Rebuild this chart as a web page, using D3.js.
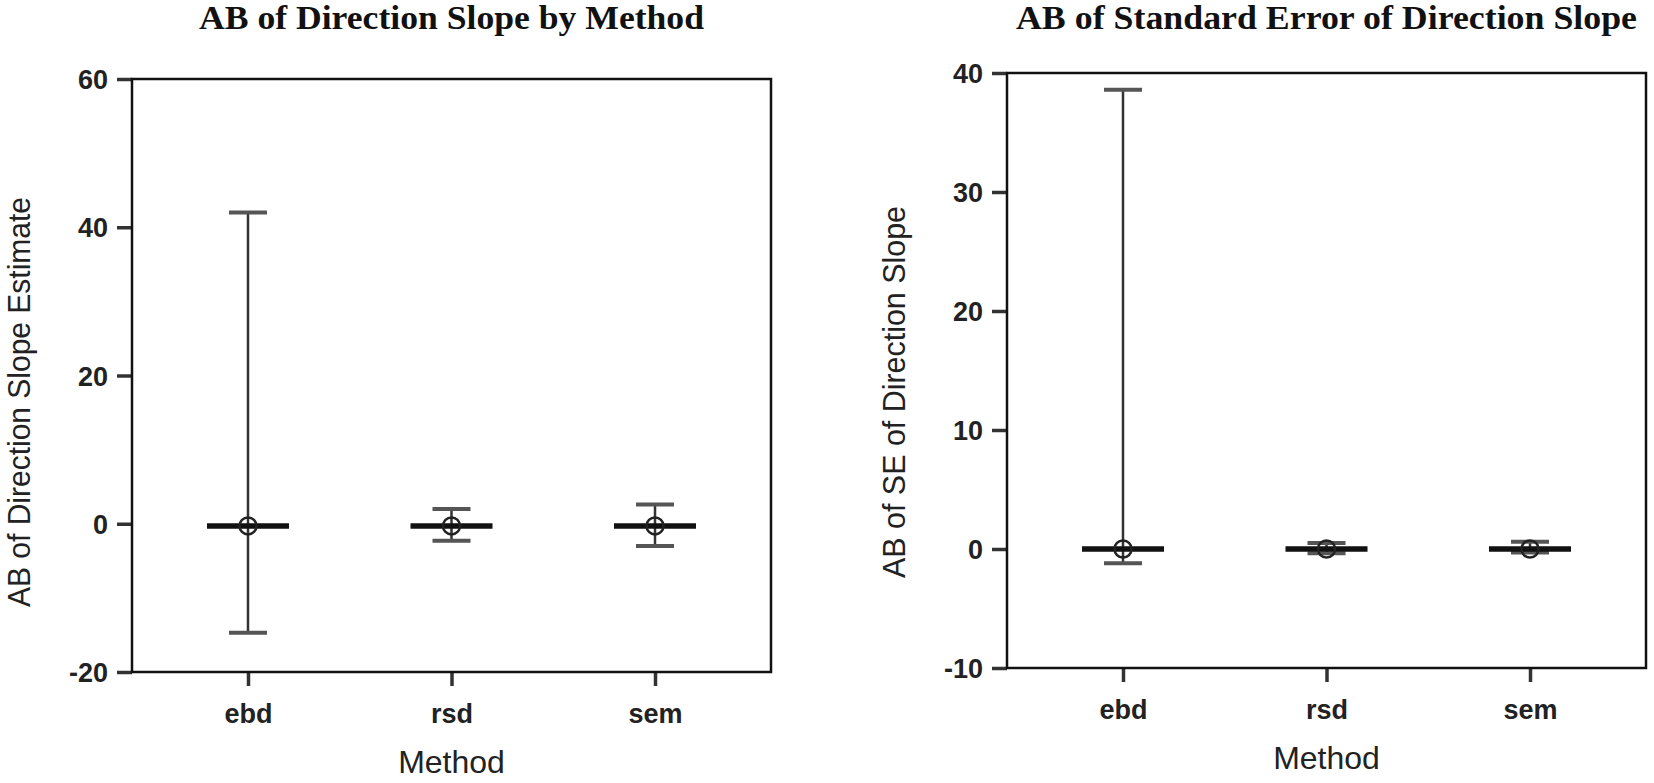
<!DOCTYPE html>
<html>
<head>
<meta charset="utf-8">
<script src="https://cdn.jsdelivr.net/npm/d3@7"></script>
<style>
  html, body { margin: 0; padding: 0; background: #fff; }
  svg { display: block; }
</style>
</head>
<body>
<div id="chart"></div>
<script>
// categories
const methods = ["ebd", "rsd", "sem"];

// left panel: AB of direction slope estimate
const slopeMid = [-0.3, -0.3, -0.3];
const slopeLow = [-14.7, -2.3, -3.0];
const slopeHigh = [42, 2.0, 2.6];
const slopeTicks = [-20, 0, 20, 40, 60];

// right panel: AB of SE of direction slope
const seMid = [0, 0, 0];
const seLow = [-1.2, -0.35, -0.3];
const seHigh = [38.6, 0.5, 0.6];
const seTicks = [-10, 0, 10, 20, 30, 40];

const W = 1654, H = 783;

const svg = d3.select("#chart").append("svg")
  .attr("width", W)
  .attr("height", H);

function drawPanel(cfg) {
  const { left, right, top, bottom, domain, ticks, mid, low, high,
          title, titleLen, ylabel, ylabelLen, ylabelY } = cfg;

  const x = d3.scalePoint()
    .domain(methods)
    .range([left, right])
    .padding(0.57);

  const y = d3.scaleLinear()
    .domain(domain)
    .range([bottom, top]);

  const g = svg.append("g");

  // title
  g.append("text")
    .attr("x", (left + right) / 2)
    .attr("y", 29)
    .attr("text-anchor", "middle")
    .attr("font-family", "'Liberation Serif', 'Times New Roman', serif")
    .attr("font-weight", "bold")
    .attr("font-size", 34)
    .attr("textLength", titleLen)
    .attr("lengthAdjust", "spacingAndGlyphs")
    .attr("fill", "#111")
    .text(title);

  // y axis
  const yAxis = g.append("g")
    .attr("transform", `translate(${left},0)`)
    .call(d3.axisLeft(y).tickValues(ticks).tickSize(15).tickPadding(9).tickFormat(d => String(d)));
  yAxis.select(".domain").remove();
  yAxis.selectAll("line").attr("stroke", "#333").attr("stroke-width", 3.5);
  yAxis.selectAll("text")
    .attr("font-family", "'Liberation Sans', Arial, sans-serif")
    .attr("font-weight", "bold")
    .attr("font-size", 27)
    .attr("fill", "#222")
    .attr("dy", "0.36em");

  // x axis
  const xAxis = g.append("g")
    .attr("transform", `translate(0,${bottom})`)
    .call(d3.axisBottom(x).tickSize(14).tickPadding(18));
  xAxis.select(".domain").remove();
  xAxis.selectAll("line").attr("stroke", "#333").attr("stroke-width", 3.5);
  xAxis.selectAll("text")
    .attr("font-family", "'Liberation Sans', Arial, sans-serif")
    .attr("font-weight", "bold")
    .attr("font-size", 27)
    .attr("fill", "#222");

  // frame
  g.append("rect")
    .attr("x", left)
    .attr("y", top)
    .attr("width", right - left)
    .attr("height", bottom - top)
    .attr("fill", "none")
    .attr("stroke", "#111")
    .attr("stroke-width", 2.5);

  // axis titles
  g.append("text")
    .attr("x", (left + right) / 2)
    .attr("y", bottom + 101)
    .attr("text-anchor", "middle")
    .attr("font-family", "'Liberation Sans', Arial, sans-serif")
    .attr("font-size", 32)
    .attr("fill", "#222")
    .text("Method");

  g.append("text")
    .attr("transform", `translate(${left - 102},${ylabelY}) rotate(-90)`)
    .attr("text-anchor", "middle")
    .attr("font-family", "'Liberation Sans', Arial, sans-serif")
    .attr("font-size", 32)
    .attr("textLength", ylabelLen)
    .attr("lengthAdjust", "spacingAndGlyphs")
    .attr("fill", "#222")
    .text(ylabel);

  const rows = methods.map((m, i) => ({ m, mid: mid[i], low: low[i], high: high[i] }));

  const mark = g.selectAll(".mark")
    .data(rows)
    .enter()
    .append("g")
    .attr("class", "mark");

  // whisker
  mark.append("line")
    .attr("x1", d => x(d.m)).attr("x2", d => x(d.m))
    .attr("y1", d => y(d.low)).attr("y2", d => y(d.high))
    .attr("stroke", "#333")
    .attr("stroke-width", 2.5);

  // caps
  mark.selectAll(".cap")
    .data(d => [d.low, d.high].map(v => ({ m: d.m, v })))
    .enter()
    .append("line")
    .attr("class", "cap")
    .attr("x1", d => x(d.m) - 19).attr("x2", d => x(d.m) + 19)
    .attr("y1", d => y(d.v)).attr("y2", d => y(d.v))
    .attr("stroke", "#555")
    .attr("stroke-width", 4);

  // center bar
  mark.append("line")
    .attr("x1", d => x(d.m) - 41).attr("x2", d => x(d.m) + 41)
    .attr("y1", d => y(d.mid)).attr("y2", d => y(d.mid))
    .attr("stroke", "#111")
    .attr("stroke-width", 5.5);

  // circle marker
  mark.append("circle")
    .attr("cx", d => x(d.m))
    .attr("cy", d => y(d.mid))
    .attr("r", 8.5)
    .attr("fill", "none")
    .attr("stroke", "#222")
    .attr("stroke-width", 2.5);
}

drawPanel({
  left: 132, right: 771, top: 79, bottom: 672,
  domain: [-20, 60], ticks: slopeTicks,
  mid: slopeMid, low: slopeLow, high: slopeHigh,
  title: "AB of Direction Slope by Method", titleLen: 505,
  ylabel: "AB of Direction Slope Estimate", ylabelLen: 410, ylabelY: 402
});

drawPanel({
  left: 1007, right: 1646, top: 73, bottom: 668,
  domain: [-10, 40], ticks: seTicks,
  mid: seMid, low: seLow, high: seHigh,
  title: "AB of Standard Error of Direction Slope", titleLen: 621,
  ylabel: "AB of SE of Direction Slope", ylabelLen: 372, ylabelY: 392
});
</script>
</body>
</html>
